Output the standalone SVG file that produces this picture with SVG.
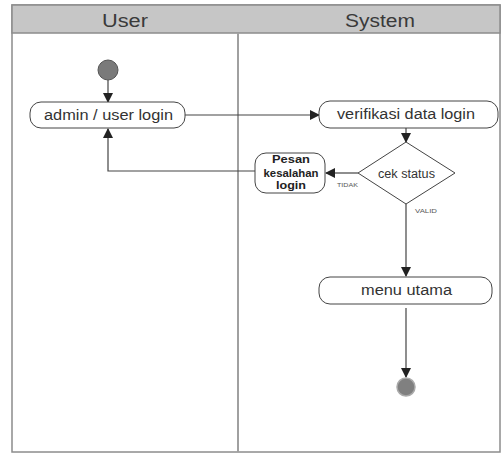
<svg xmlns="http://www.w3.org/2000/svg" width="501" height="454" viewBox="0 0 501 454">
<defs>
<marker id="arr" markerWidth="10" markerHeight="10" refX="9" refY="5" orient="auto" markerUnits="userSpaceOnUse">
<path d="M0,0 L10,5 L0,10 Z" fill="#222"/>
</marker>
</defs>
<style>
.lane{fill:#fff;stroke:#8c8c8c;stroke-width:1.5}
.head{fill:#c6c6c6;stroke:#8c8c8c;stroke-width:1.5}
.ht{font-family:"Liberation Sans",Arial,sans-serif;font-size:18px;fill:#3a3a3a;text-anchor:middle}
.box{fill:#fff;stroke:#444;stroke-width:1}
.t{font-family:"Liberation Sans",Arial,sans-serif;font-size:14px;fill:#333;text-anchor:middle}
.tb{font-family:"Liberation Sans",Arial,sans-serif;font-size:10px;font-weight:bold;fill:#222;text-anchor:middle}
.small{font-family:"Liberation Sans",Arial,sans-serif;font-size:6px;fill:#555}
.c{fill:none;stroke:#444;stroke-width:1.2;marker-end:url(#arr)}
</style>
<rect width="501" height="454" fill="#fff"/>
<g id="lanes">
<rect class="lane" x="12" y="5" width="488" height="447"/>
<rect class="head" x="12" y="5" width="488" height="28"/>
<line x1="238" y1="33" x2="238" y2="452" stroke="#a0a0a0" stroke-width="2"/>
<text class="ht" x="125" y="27" textLength="46" lengthAdjust="spacingAndGlyphs">User</text>
<text class="ht" x="380" y="27" textLength="70" lengthAdjust="spacingAndGlyphs">System</text>
</g>
<g id="connectors">
<line class="c" x1="108" y1="80" x2="108" y2="102"/>
<line class="c" x1="185" y1="115" x2="319" y2="115"/>
<line class="c" x1="406" y1="128" x2="406" y2="142"/>
<line class="c" x1="358" y1="173" x2="326" y2="173"/>
<polyline class="c" points="255,171 108,171 108,129"/>
<line class="c" x1="406" y1="204" x2="406" y2="276"/>
<line class="c" x1="406" y1="308" x2="406" y2="377"/>
<text class="small" x="337" y="187" textLength="21" lengthAdjust="spacingAndGlyphs">TIDAK</text>
<text class="small" x="415" y="213" textLength="22" lengthAdjust="spacingAndGlyphs">VALID</text>
</g>
<g id="start">
<circle cx="108" cy="70" r="10" fill="#7a7a7a" stroke="#555" stroke-width="1"/>
</g>
<g id="admin-login">
<rect class="box" x="30" y="102" width="155" height="26" rx="11"/>
<text class="t" x="108.5" y="120" textLength="129" lengthAdjust="spacingAndGlyphs">admin / user login</text>
</g>
<g id="verifikasi">
<rect class="box" x="319" y="101" width="179" height="27" rx="11"/>
<text class="t" x="406" y="119" textLength="138" lengthAdjust="spacingAndGlyphs">verifikasi data login</text>
</g>
<g id="cek-status">
<polygon class="box" points="406,142 455,173 406,204 358,173"/>
<text class="t" x="406.5" y="178" style="font-size:12px" textLength="57" lengthAdjust="spacingAndGlyphs">cek status</text>
</g>
<g id="pesan">
<rect class="box" x="255" y="153" width="70" height="40" rx="11"/>
<text class="tb" x="291" y="163" textLength="38" lengthAdjust="spacingAndGlyphs">Pesan</text>
<text class="tb" x="291" y="177" textLength="55" lengthAdjust="spacingAndGlyphs">kesalahan</text>
<text class="tb" x="291" y="189" textLength="30" lengthAdjust="spacingAndGlyphs">login</text>
</g>
<g id="menu-utama">
<rect class="box" x="319" y="277" width="173" height="27" rx="11"/>
<text class="t" x="406.5" y="295" textLength="91" lengthAdjust="spacingAndGlyphs">menu utama</text>
</g>
<g id="end">
<circle cx="406" cy="387" r="9" fill="#808080" stroke="#aaa" stroke-width="1.5"/>
</g>
</svg>
